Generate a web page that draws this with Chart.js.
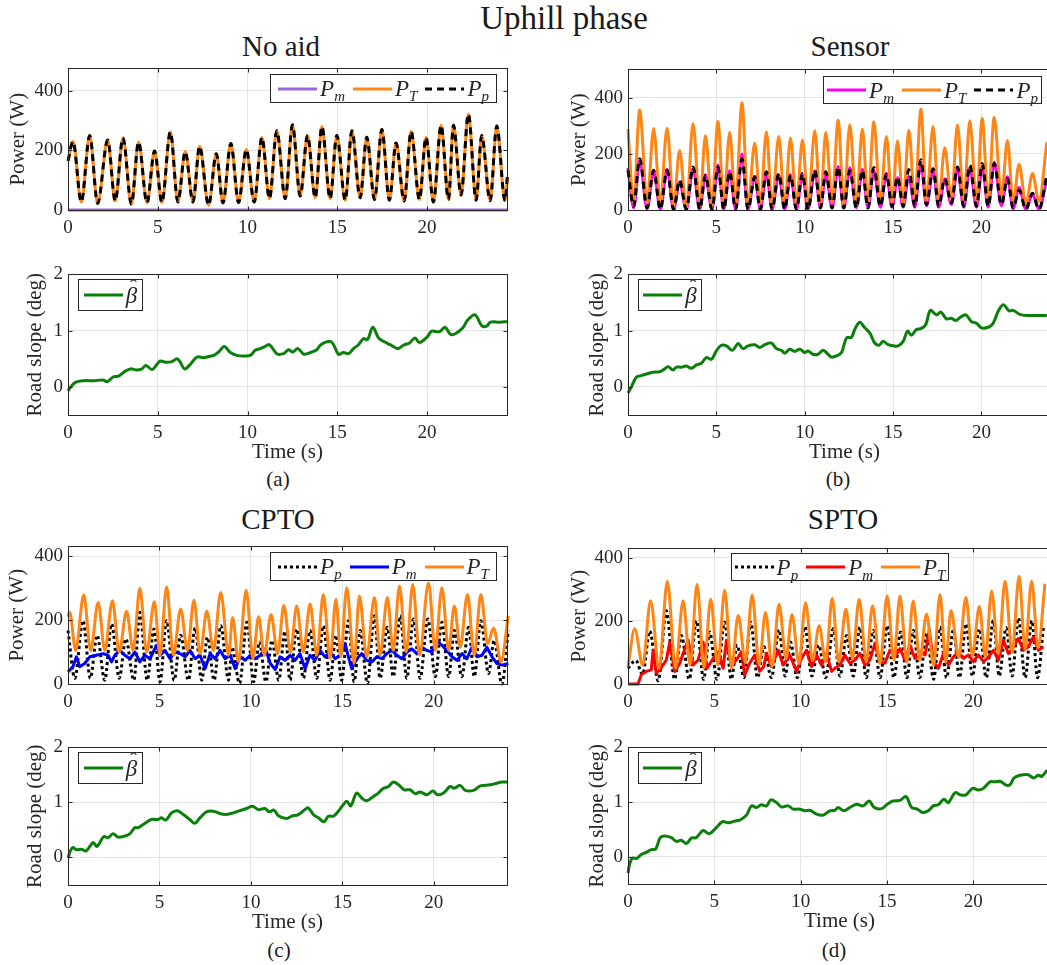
<!DOCTYPE html>
<html>
<head>
<meta charset="utf-8">
<title>Uphill phase</title>
<script src="https://cdn.jsdelivr.net/npm/chart.js@4.4.1/dist/chart.umd.min.js"></script>
<style>
  html, body { margin: 0; padding: 0; background: #fff; overflow: hidden; }
  #fig { position: relative; width: 1047px; height: 965px; overflow: hidden; }
  #fig canvas { position: absolute; }
  .txt { position: absolute; font-family: 'Liberation Serif', serif; font-weight: normal; color: #1a1a1a; line-height: 1; white-space: nowrap; transform: translateX(-50%); }
  .legend { position: absolute; box-sizing: border-box; background: #fff; border: 1px solid #262626; display: flex; align-items: center; justify-content: center;
            font-family: 'Liberation Serif', serif; font-size: 23px; color: #262626; line-height: 1; z-index: 5; }
  .legend .item { display: inline-flex; align-items: center; margin: 0 4px; }
  .legend .lab { margin-left: 3px; font-style: italic; }
  .legend sub { font-size: 15px; vertical-align: -5px; line-height: 0; }
  .hat { position: relative; display: inline-block; }
  .hat .mark { position: absolute; left: 0.2em; top: -0.3em; font-style: normal; font-size: 0.9em; }
</style>
</head>
<body>
<div id="fig">
  <div class="txt" style="left:564px; top:2px; font-size:33px;">Uphill phase</div>
  <div class="txt" style="left:281px; top:32px; font-size:29px;">No aid</div>
  <div class="txt" style="left:850px; top:32px; font-size:29px;">Sensor</div>
  <div class="txt" style="left:278px; top:505px; font-size:29px;">CPTO</div>
  <div class="txt" style="left:843px; top:505px; font-size:29px;">SPTO</div>
  <div class="txt" style="left:278px; top:469px; font-size:21px;">(a)</div>
  <div class="txt" style="left:838px; top:469px; font-size:21px;">(b)</div>
  <div class="txt" style="left:279px; top:940px; font-size:21px;">(c)</div>
  <div class="txt" style="left:834px; top:940px; font-size:21px;">(d)</div>
</div>
<script>
// ---- axis ticks
const timeTicks = [0, 5, 10, 15, 20];
const powerTicks = [0, 200, 400];
const slopeTicks = [0, 1, 2];

// ---- (a) No aid
const aTime = [0,0.28,0.74,1.21,1.65,2.21,2.63,3.06,3.53,3.93,4.40,4.82,5.23,5.70,6.12,6.53,6.96,7.33,7.83,8.26,
  8.63,9.07,9.50,9.93,10.37,10.80,11.22,11.63,12.10,12.50,12.93,13.34,13.77,14.14,14.60,14.97,15.44,15.81,16.27,16.64,
  17.07,17.48,17.90,18.27,18.72,19.11,19.57,19.94,20.35,20.78,21.19,21.47,21.89,22.30,22.73,23.04,23.51,23.88,24.34,24.47];
const aPT = [165,230,27,250,22,235,30,242,20,228,24,198,25,262,27,196,27,214,16,189,
  24,223,25,203,27,244,38,266,38,286,47,250,41,280,38,250,33,266,41,244,
  35,270,33,225,30,264,35,244,27,284,35,284,50,322,33,250,31,282,31,110];
const aPp = aPT; // pedal power lies exactly on P_T
const aPmTime = [0, 24.5];
const aPm = [0, 0];
const aSlopeTime = [0,0.13,0.41,0.87,1.43,1.99,2.17,2.54,2.82,3.19,3.47,3.84,4.12,4.34,4.68,4.95,5.14,5.42,5.79,6.07,
  6.25,6.49,6.81,7.18,7.55,7.83,8.11,8.39,8.70,9.04,9.41,9.78,10.15,10.43,10.71,10.98,11.22,11.63,12.00,12.28,
  12.52,12.80,13.15,13.58,13.86,14.08,14.60,14.79,15.06,15.34,15.62,15.90,16.18,16.46,16.68,16.98,17.29,17.57,17.94,18.37,
  18.68,19.02,19.33,19.57,19.98,20.26,20.69,21.00,21.32,21.65,21.99,22.24,22.67,23.04,23.32,23.51,24.06,24.47];
const aSlope = [-0.07,-0.01,0.08,0.11,0.11,0.12,0.09,0.18,0.19,0.28,0.32,0.30,0.32,0.38,0.31,0.40,0.46,0.44,0.45,0.50,
  0.44,0.32,0.40,0.53,0.52,0.54,0.56,0.62,0.72,0.61,0.56,0.55,0.56,0.65,0.68,0.72,0.75,0.59,0.59,0.66,
  0.62,0.68,0.58,0.62,0.66,0.75,0.81,0.75,0.58,0.61,0.59,0.68,0.75,0.86,0.84,1.06,0.87,0.81,0.75,0.68,
  0.74,0.78,0.87,0.79,0.88,0.99,0.98,1.06,0.93,0.96,1.05,1.18,1.28,1.09,1.08,1.15,1.15,1.16];

// ---- (b) Sensor
const bTime = [0,0.32,0.66,1.08,1.45,1.83,2.21,2.58,2.92,3.30,3.68,4.06,4.38,4.75,5.09,5.42,5.75,6.09,6.45,6.79,
  7.17,7.49,7.83,8.15,8.53,8.87,9.19,9.53,9.87,10.19,10.57,10.89,11.19,11.55,11.89,12.21,12.55,12.92,13.26,13.58,
  13.91,14.28,14.62,14.94,15.25,15.57,15.89,16.23,16.57,16.89,17.26,17.58,17.92,18.30,18.64,19.00,19.34,19.72,20.04,20.38,
  20.72,21.13,21.47,21.79,22.13,22.51,22.89,23.25,23.70];
const bPT = [288,25,356,25,290,25,291,15,212,3,308,15,264,15,315,15,276,20,381,15,
  238,20,278,15,261,15,256,20,249,20,282,20,276,25,319,20,303,20,288,25,
  314,25,261,25,245,20,284,30,358,30,297,25,221,36,302,30,317,30,325,30,
  329,48,247,25,163,20,130,30,241];
const bPp = [141,13,182,7,141,2,141,2,106,2,153,2,124,2,153,2,136,2,182,2,
  118,2,136,2,130,2,124,2,130,2,141,7,136,7,153,7,141,7,141,7,
  151,13,128,13,118,13,144,13,179,19,147,13,112,25,153,13,159,13,165,13,
  165,19,112,7,71,2,60,2,124];
const bPm = [150,8,178,5,140,3,145,3,100,2,148,3,125,3,160,3,140,3,200,3,
  120,3,135,3,125,3,125,3,125,3,140,8,130,8,155,8,150,8,145,8,
  140,10,130,10,115,10,120,10,170,15,140,10,110,20,150,10,150,10,155,10,
  170,15,118,5,80,3,55,3,110];
const bSlopeTime = [0,0.19,0.47,0.75,1.04,1.42,1.79,2.08,2.26,2.55,2.74,3.02,3.30,3.58,3.87,4.15,4.43,4.72,5.00,5.28,
  5.57,5.91,6.23,6.51,6.79,7.17,7.45,7.74,8.11,8.40,8.68,8.87,9.15,9.43,9.72,10.00,10.19,10.47,10.75,11.04,
  11.32,11.51,11.79,12.08,12.36,12.64,12.83,13.11,13.40,13.68,13.96,14.21,14.43,14.72,15.00,15.28,15.57,15.81,16.04,16.32,
  16.60,16.85,17.11,17.45,17.70,18.02,18.30,18.55,18.77,19.11,19.43,19.72,20.00,20.38,20.66,20.94,21.23,21.57,21.79,22.17,
  22.55,23.11,23.70];
const bSlope = [-0.11,0,0.17,0.20,0.23,0.26,0.27,0.32,0.36,0.30,0.35,0.35,0.37,0.33,0.39,0.42,0.52,0.49,0.64,0.74,
  0.73,0.65,0.77,0.68,0.73,0.75,0.70,0.75,0.78,0.68,0.65,0.60,0.67,0.63,0.67,0.61,0.64,0.58,0.58,0.65,
  0.58,0.53,0.55,0.61,0.87,0.88,1.02,1.15,1.05,0.96,0.78,0.74,0.81,0.75,0.73,0.73,0.81,0.99,0.92,1.02,
  1.04,1.11,1.36,1.28,1.33,1.21,1.22,1.18,1.23,1.28,1.16,1.13,1.05,1.06,1.13,1.34,1.46,1.35,1.36,1.29,
  1.27,1.27,1.27];

// ---- (c) CPTO
const cPTTime = [0,0.09,0.42,0.86,1.24,1.65,2.01,2.43,2.80,3.20,3.56,3.93,4.30,4.72,5.03,5.39,5.76,6.16,6.53,6.89,
  7.22,7.59,7.95,8.35,8.78,9.00,9.32,9.74,10.11,10.42,10.73,11.10,11.46,11.80,12.17,12.50,12.87,13.23,13.60,13.96,
  14.33,14.65,14.91,15.24,15.64,15.93,16.33,16.75,17.06,17.46,17.78,18.12,18.49,18.85,19.22,19.71,20.08,20.44,20.81,21.12,
  21.44,21.84,22.21,22.57,22.94,23.27,23.67,24.07];
const cPT = [210,224,105,278,105,255,105,260,100,227,105,299,100,257,90,303,90,234,105,262,
  95,227,105,286,90,208,70,293,80,210,90,217,95,245,100,244,100,250,90,280,
  80,265,85,301,64,275,85,270,90,270,105,306,100,311,90,316,105,301,105,244,
  115,280,90,280,126,175,69,213];
const cPpTime = [0,0.37,0.82,1.22,1.59,2.01,2.38,2.80,3.16,3.60,3.93,4.33,4.70,5.03,5.39,5.80,6.16,6.58,6.95,7.31,
  7.62,7.99,8.35,8.78,8.96,9.38,9.78,10.15,10.46,10.82,11.15,11.52,11.86,12.14,12.50,12.87,13.23,13.60,13.96,14.33,
  14.65,14.96,15.33,15.64,15.97,16.37,16.75,17.06,17.46,17.78,18.16,18.52,18.89,19.25,19.67,20.08,20.44,20.81,21.12,21.53,
  21.90,22.21,22.57,22.99,23.30,23.72,24.07];
const cPp = [167,18,198,18,152,12,188,18,141,12,224,12,172,7,198,12,152,12,175,12,
  146,12,182,12,115,2,193,7,131,7,136,12,165,12,172,18,167,18,182,12,
  152,12,198,7,167,2,213,18,177,23,213,18,203,18,203,23,193,23,167,23,
  177,23,198,33,136,0,167];
const cPmTime = [0,0.27,0.46,0.64,0.91,1.19,1.55,1.92,2.19,2.38,2.56,2.83,3.11,3.38,3.66,3.93,4.20,4.48,4.84,5.03,
  5.30,5.58,5.85,6.12,6.40,6.67,6.95,7.22,7.50,7.77,8.04,8.32,8.59,8.87,9.14,9.41,9.69,9.96,10.24,10.51,
  10.79,11.06,11.33,11.59,11.86,12.14,12.41,12.68,12.96,13.23,13.50,13.78,14.05,14.33,14.60,14.87,15.15,15.33,15.51,15.79,
  16.06,16.33,16.61,16.88,17.16,17.43,17.71,17.98,18.25,18.53,18.80,19.07,19.35,19.62,19.89,20.16,20.44,20.71,20.99,21.26,
  21.54,21.81,22.08,22.36,22.63,22.90,23.18,23.45,23.72,24.07];
const cPm = [38,54,85,54,64,85,90,95,90,69,90,105,90,79,100,69,90,79,121,90,
  105,79,100,95,85,105,79,90,48,95,79,105,79,90,48,85,74,90,79,90,
  110,64,45,85,74,90,74,95,48,90,74,105,85,100,79,90,126,85,48,79,
  95,74,69,85,79,95,105,90,79,100,110,95,115,105,100,136,121,105,85,74,
  95,79,115,85,90,115,85,64,59,64];
const cSlopeTime = [0,0.13,0.27,0.46,0.73,1.00,1.37,1.59,1.95,2.19,2.46,2.74,3.10,3.38,3.65,3.83,4.11,4.56,4.93,5.11,
  5.35,5.66,5.97,6.30,6.66,6.93,7.21,7.57,7.94,8.30,8.58,9.03,9.40,9.76,10.09,10.40,10.77,11.00,11.26,11.50,
  11.95,12.23,12.59,12.96,13.14,13.41,13.69,14.00,14.23,14.51,14.78,15.05,15.24,15.46,15.78,16.06,16.33,16.70,16.97,17.21,
  17.52,17.79,18.07,18.38,18.70,18.98,19.25,19.62,19.95,20.20,20.53,20.89,21.11,21.44,21.72,22.17,22.54,23.08,23.45,23.72,24.00];
const cSlope = [-0.01,0.12,0.18,0.14,0.15,0.12,0.27,0.20,0.38,0.36,0.43,0.37,0.39,0.43,0.54,0.54,0.60,0.69,0.69,0.72,
  0.68,0.81,0.85,0.78,0.69,0.62,0.72,0.83,0.84,0.80,0.78,0.81,0.85,0.89,0.93,0.87,0.89,0.83,0.86,0.76,
  0.71,0.75,0.78,0.87,0.90,0.78,0.72,0.65,0.75,0.75,0.84,0.96,1.02,0.94,1.17,1.08,1.03,1.11,1.17,1.25,
  1.29,1.37,1.32,1.23,1.23,1.16,1.19,1.14,1.21,1.14,1.17,1.29,1.26,1.31,1.22,1.22,1.30,1.32,1.35,1.37,1.37];

// ---- (d) SPTO
const dPTTime = [0,0.39,0.85,1.31,1.80,2.28,2.75,3.19,3.60,4.00,4.40,4.79,5.20,5.60,6.00,6.38,6.80,7.19,7.60,7.96,
  8.35,8.75,9.15,9.50,9.90,10.28,10.70,11.07,11.45,11.83,12.20,12.62,13.00,13.39,13.80,14.16,14.60,15.01,15.40,15.75,
  16.15,16.52,16.90,17.29,17.70,18.07,18.40,18.71,19.15,19.57,19.95,20.35,20.70,21.06,21.45,21.84,22.25,22.65,23.00,23.38,
  23.75,24.15];
const dPT = [55,175,60,264,50,326,50,264,60,316,50,269,60,297,50,217,70,282,60,227,
  55,253,80,220,65,258,75,185,70,272,70,237,80,269,70,248,65,279,75,279,
  70,263,75,222,60,284,70,232,85,274,90,246,85,295,95,326,100,342,110,326,
  115,318];
const dPpTime = [0,0.45,0.85,1.26,1.75,2.22,2.70,3.09,3.55,3.96,4.38,4.73,5.15,5.60,5.98,6.32,6.72,7.11,7.50,7.88,
  8.30,8.75,9.10,9.41,9.80,10.24,10.65,11.05,11.45,11.89,12.28,12.66,13.05,13.43,13.80,14.20,14.60,15.02,15.40,15.79,
  16.15,16.53,16.90,17.30,17.70,18.07,18.45,18.85,19.20,19.58,19.95,20.35,20.75,21.16,21.50,21.90,22.25,22.61,23.00,23.39,
  23.72,24.06];
const dPp = [50,75,30,168,10,232,15,154,15,201,15,165,15,196,15,123,20,196,20,118,
  20,172,25,133,20,182,25,123,20,175,25,154,25,180,20,170,20,185,20,165,
  20,170,20,159,15,180,20,172,20,191,25,175,20,201,25,178,25,209,20,201,
  20,180];
const dPmTime = [0,0.58,0.77,1.06,1.35,1.45,1.64,1.84,2.22,2.42,2.71,3.00,3.19,3.48,3.77,4.06,4.35,4.58,4.93,5.22,
  5.51,5.70,5.99,6.28,6.57,6.76,7.05,7.34,7.63,7.86,8.02,8.31,8.70,8.99,9.37,9.76,10.05,10.34,10.63,10.92,
  11.21,11.50,11.79,11.98,12.27,12.56,12.85,13.14,13.43,13.72,14.01,14.30,14.59,14.88,15.17,15.46,15.75,16.04,16.33,16.62,
  16.92,17.21,17.45,17.69,17.98,18.27,18.56,18.85,19.14,19.43,19.71,20.00,20.29,20.59,20.88,21.16,21.45,21.74,22.03,22.32,
  22.61,22.90,23.19,23.48,23.77,24.06];
const dPm = [0,0,29,40,45,107,34,45,76,133,40,66,97,139,60,76,133,50,81,102,
  50,139,60,76,102,29,66,92,40,55,97,55,107,60,92,40,81,107,55,92,
  60,97,40,50,60,92,66,76,97,60,76,128,71,66,107,86,112,76,123,81,
  102,92,172,71,50,97,60,86,102,81,92,71,92,71,86,107,76,139,97,118,
  144,107,118,149,107,118];
const dSlopeTime = [0,0.10,0.25,0.52,0.77,1.06,1.35,1.60,1.87,2.13,2.51,2.80,3.09,3.38,3.67,3.96,4.35,4.70,5.02,5.47,
  5.80,6.18,6.47,6.86,7.15,7.44,7.73,8.02,8.27,8.60,8.89,9.28,9.57,9.95,10.24,10.53,10.92,11.30,11.69,11.98,
  12.17,12.50,12.85,13.24,13.62,13.97,14.26,14.69,14.98,15.36,15.75,16.10,16.43,16.75,17.06,17.39,17.68,17.97,18.30,18.55,
  18.94,19.27,19.57,19.96,20.29,20.58,20.97,21.26,21.55,21.90,22.13,22.36,22.71,23.19,23.48,23.77,23.96,24.27];
const dSlope = [-0.30,-0.13,-0.03,-0.03,0.04,0.08,0.13,0.14,0.35,0.38,0.35,0.28,0.30,0.24,0.34,0.35,0.48,0.42,0.50,0.64,
  0.62,0.65,0.67,0.76,0.93,0.90,0.95,0.93,1.04,0.99,0.91,0.93,0.87,0.87,0.84,0.85,0.78,0.76,0.84,0.85,
  0.90,0.84,0.90,0.96,0.93,1.02,0.90,0.88,0.95,1.02,1.03,1.10,0.90,0.87,0.81,0.84,0.93,0.95,1.05,0.99,
  1.17,1.13,1.13,1.25,1.22,1.25,1.37,1.37,1.38,1.31,1.32,1.44,1.49,1.50,1.44,1.49,1.47,1.58];

// ---- styles
const textColor = '#262626';
const gridColor = '#e4e4e4';
const orange = '#ff8514';
const green = '#0a800a';

Chart.defaults.font.family = "'Liberation Serif', serif";
Chart.defaults.font.weight = 'normal';
Chart.defaults.color = textColor;

const pts = (ts, vs) => ts.map((t, i) => ({ x: t, y: vs[i] }));

// series in legend order; the last one is drawn on top (as plotted)
function series(list) {
  return list.map((s, i) => Object.assign({
    borderWidth: 3, pointRadius: 0, fill: false, clip: 3,
    borderJoinStyle: 'round', cubicInterpolationMode: 'monotone',
    order: list.length - i
  }, s));
}

// box + inward tick marks, like MATLAB axes
const boxPlugin = {
  id: 'box',
  afterDatasetsDraw(chart) {
    const { ctx, chartArea: a, scales } = chart;
    const L = Math.round(a.left) + 0.5, T = Math.round(a.top) + 0.5;
    const R = Math.round(a.right) + 0.5, B = Math.round(a.bottom) + 0.5;
    ctx.save();
    ctx.strokeStyle = textColor;
    ctx.lineWidth = 1;
    ctx.strokeRect(L, T, R - L, B - T);
    ctx.beginPath();
    scales.x.ticks.forEach(t => {
      const px = Math.round(scales.x.getPixelForValue(t.value)) + 0.5;
      ctx.moveTo(px, B); ctx.lineTo(px, B - 4);
      ctx.moveTo(px, T); ctx.lineTo(px, T + 4);
    });
    scales.y.ticks.forEach(t => {
      const py = Math.round(scales.y.getPixelForValue(t.value)) + 0.5;
      ctx.moveTo(L, py); ctx.lineTo(L + 4, py);
      ctx.moveTo(R, py); ctx.lineTo(R - 4, py);
    });
    ctx.stroke();
    ctx.restore();
  }
};

function fmtLabel(s) {
  if (s.includes('\u0302')) {
    return `<span class="hat">${s.replace('\u0302', '')}<span class="mark">ˆ</span></span>`;
  }
  const p = s.split('_');
  return p.length > 1 ? `${p[0]}<sub>${p[1]}</sub>` : s;
}

// html legend built from the chart's datasets
const htmlLegend = {
  id: 'htmlLegend',
  afterInit(chart, args, o) {
    const el = document.createElement('div');
    el.className = 'legend';
    Object.assign(el.style, { left: o.x + 'px', top: o.y + 'px', width: o.w + 'px', height: o.h + 'px' });
    chart.data.datasets.forEach(ds => {
      const item = document.createElement('span');
      item.className = 'item';
      const dash = (ds.borderDash || []).join(' ');
      item.innerHTML = `<svg width="39" height="10"><line x1="0" y1="5" x2="39" y2="5" stroke="${ds.borderColor}" stroke-width="${ds.borderWidth}" stroke-dasharray="${dash}"/></svg>` +
        `<span class="lab">${fmtLabel(ds.label)}</span>`;
      el.appendChild(item);
    });
    document.getElementById('fig').appendChild(el);
  }
};

function panel(box, cfg) {
  const yW = 70, padTop = 14, padRight = 12;
  const xH = cfg.xTitle ? 50 : 35;
  const left = box.l - yW, top = box.t - padTop;
  const W = box.r - box.l + yW + padRight;
  const H = box.b - box.t + padTop + xH;
  const canvas = document.createElement('canvas');
  canvas.width = W; canvas.height = H;
  Object.assign(canvas.style, { left: left + 'px', top: top + 'px', width: W + 'px', height: H + 'px' });
  document.getElementById('fig').appendChild(canvas);

  new Chart(canvas, {
    type: 'line',
    data: { datasets: cfg.datasets },
    options: {
      responsive: false,
      animation: false,
      events: [],
      layout: { padding: { left: 0, top: padTop, right: padRight, bottom: 0 } },
      plugins: { legend: { display: false }, tooltip: { enabled: false }, htmlLegend: cfg.legend },
      scales: {
        x: {
          type: 'linear', min: 0, max: cfg.xMax,
          afterBuildTicks: s => { s.ticks = timeTicks.map(v => ({ value: v })); },
          afterFit: s => { s.height = xH; },
          grid: { color: gridColor, drawTicks: false },
          border: { display: false },
          ticks: { padding: 7, font: { size: 19, weight: 'normal' }, color: textColor, maxRotation: 0, autoSkip: false },
          title: { display: !!cfg.xTitle, text: 'Time (s)', font: { size: 21, weight: 'normal' }, color: textColor, padding: { top: 0, bottom: 0 } }
        },
        y: {
          type: 'linear', min: cfg.yMin, max: cfg.yMax,
          afterBuildTicks: s => { s.ticks = cfg.yTicks.map(v => ({ value: v })); },
          afterFit: s => { s.width = yW; },
          grid: { color: gridColor, drawTicks: false },
          border: { display: false },
          ticks: { padding: 5, font: { size: 19, weight: 'normal' }, color: textColor, autoSkip: false },
          title: { display: true, text: cfg.yTitle, font: { size: 21, weight: 'normal' }, color: textColor,
                   padding: { top: cfg.yTitleX - left - 12.6, bottom: 0 } }
        }
      }
    },
    plugins: [boxPlugin, htmlLegend]
  });
}

function powerPanel(box, cfg) {
  panel(box, Object.assign({ yMin: 0, yTicks: powerTicks, yTitle: 'Power (W)' }, cfg));
}
function slopePanel(box, xMax, yTitleX, legend, ts, vs) {
  panel(box, {
    xMax, yMin: -0.5, yMax: 2, yTicks: slopeTicks, yTitle: 'Road slope (deg)', yTitleX, xTitle: true, legend,
    datasets: series([{ label: 'β\u0302', data: pts(ts, vs), borderColor: green, cubicInterpolationMode: 'default', tension: 0.35 }])
  });
}

// (a)
powerPanel({ l: 68, r: 507, t: 66, b: 210 }, {
  xMax: 24.45, yMax: 475, yTitleX: 18.5,
  legend: { x: 270, y: 74, w: 227, h: 29 },
  datasets: series([
    { label: 'P_m', data: pts(aPmTime, aPm), borderColor: '#9966dd' },
    { label: 'P_T', data: pts(aTime, aPT), borderColor: orange },
    { label: 'P_p', data: pts(aTime, aPp), borderColor: '#000', borderDash: [7, 5] }
  ])
});
slopePanel({ l: 68, r: 507, t: 272, b: 415 }, 24.45, 35.8, { x: 78, y: 279, w: 65, h: 32 }, aSlopeTime, aSlope);

// (b)
powerPanel({ l: 628, r: 1061, t: 67, b: 210 }, {
  xMax: 24.5, yMax: 500, yTitleX: 579,
  legend: { x: 823, y: 76, w: 219, h: 28 },
  datasets: series([
    { label: 'P_m', data: pts(bTime, bPm), borderColor: '#ff00ff' },
    { label: 'P_T', data: pts(bTime, bPT), borderColor: orange },
    { label: 'P_p', data: pts(bTime, bPp), borderColor: '#000', borderDash: [7, 5] }
  ])
});
slopePanel({ l: 628, r: 1061, t: 272, b: 415 }, 24.5, 597.4, { x: 638, y: 279, w: 64, h: 32 }, bSlopeTime, bSlope);

// (c)
powerPanel({ l: 68, r: 507, t: 544, b: 684 }, {
  xMax: 24, yMax: 430, yTitleX: 17.5,
  legend: { x: 270, y: 552, w: 227, h: 29 },
  datasets: series([
    { label: 'P_p', data: pts(cPpTime, cPp), borderColor: '#000', borderDash: [3, 3] },
    { label: 'P_m', data: pts(cPmTime, cPm), borderColor: '#0000ff', cubicInterpolationMode: 'default', tension: 0 },
    { label: 'P_T', data: pts(cPTTime, cPT), borderColor: orange }
  ])
});
slopePanel({ l: 68, r: 507, t: 745, b: 885 }, 24, 35.8, { x: 78, y: 752, w: 65, h: 32 }, cSlopeTime, cSlope);

// (d)
powerPanel({ l: 628, r: 1051, t: 546, b: 684 }, {
  xMax: 24.5, yMax: 430, yTitleX: 579,
  legend: { x: 731, y: 553, w: 218, h: 28 },
  datasets: series([
    { label: 'P_p', data: pts(dPpTime, dPp), borderColor: '#000', borderDash: [3, 3] },
    { label: 'P_m', data: pts(dPmTime, dPm), borderColor: '#ff0000', cubicInterpolationMode: 'default', tension: 0 },
    { label: 'P_T', data: pts(dPTTime, dPT), borderColor: orange }
  ])
});
slopePanel({ l: 628, r: 1051, t: 745, b: 884 }, 24.5, 597.4, { x: 638, y: 752, w: 64, h: 32 }, dSlopeTime, dSlope);
</script>
</body>
</html>
